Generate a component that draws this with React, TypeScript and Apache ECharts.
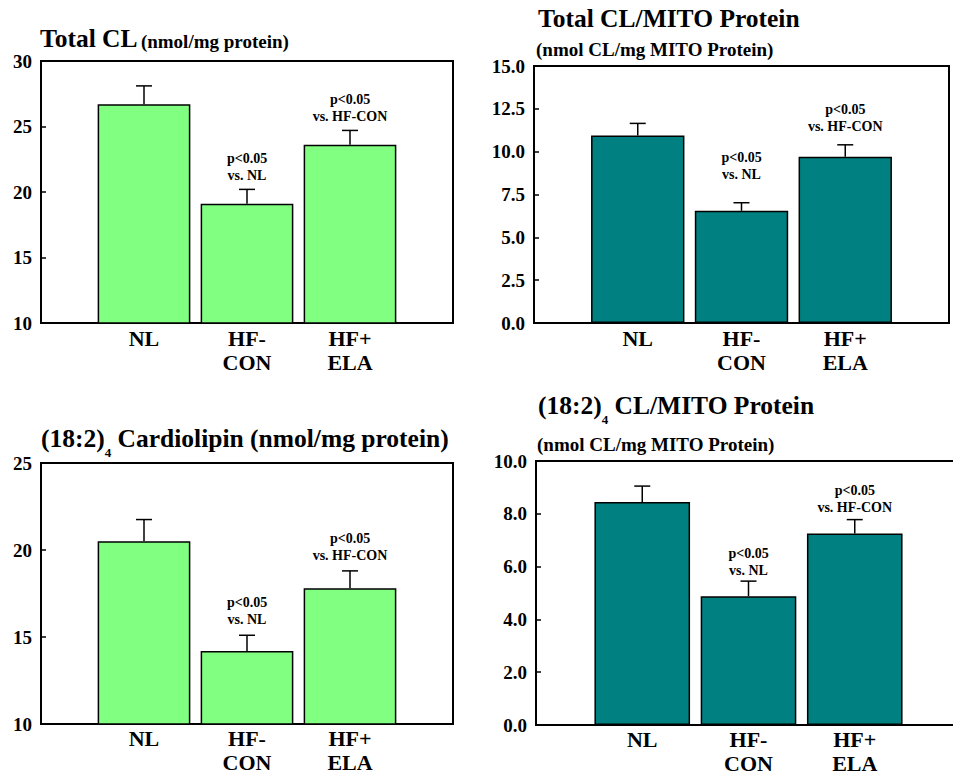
import React, { useEffect, useRef } from 'react';
import * as echarts from 'echarts';

// ---------- data ----------
const categories = ['NL', 'HF-\nCON', 'HF+\nELA'];

const totalCL = [26.7, 19.1, 23.6];
const totalCLSem = [1.4, 1.1, 1.1];

const totalCLMito = [10.95, 6.55, 9.7];
const totalCLMitoSem = [0.7, 0.47, 0.7];

const cl182Total = [20.5, 14.2, 17.8];
const cl182TotalSem = [1.25, 0.9, 1.0];

const cl182Mito = [8.45, 4.88, 7.25];
const cl182MitoSem = [0.6, 0.57, 0.53];

const significance = ['', 'p<0.05\nvs. NL', 'p<0.05\nvs. HF-CON'];
// vertical level (data units) of the centre of each significance note
const noteLevelTotalCL = [null, 21.9, 26.4];
const noteLevelTotalCLMito = [null, 9.15, 11.95];
const noteLevelCl182Total = [null, 16.5, 20.2];
const noteLevelCl182Mito = [null, 6.16, 8.56];

// ---------- styling ----------
const FONT = "'Liberation Serif', 'Times New Roman', serif";
const GREEN = '#80FF80';
const TEAL = '#008080';
const TITLE_FS = 25.5;
const SUB_FS = 19;

const panels = [
  { grid: { left: 41, top: 61, width: 412, height: 262 }, min: 10, max: 30, interval: 5, dec: 0, color: GREEN, values: totalCL, sem: totalCLSem, notes: noteLevelTotalCL, labelMargin: 3 },
  { grid: { left: 534, top: 66, width: 415, height: 257 }, min: 0, max: 15, interval: 2.5, dec: 1, color: TEAL, values: totalCLMito, sem: totalCLMitoSem, notes: noteLevelTotalCLMito, labelMargin: 3 },
  { grid: { left: 41, top: 463, width: 412, height: 261 }, min: 10, max: 25, interval: 5, dec: 0, color: GREEN, values: cl182Total, sem: cl182TotalSem, notes: noteLevelCl182Total, labelMargin: 2 },
  { grid: { left: 536, top: 461, width: 425, height: 264 }, min: 0, max: 10, interval: 2, dec: 1, color: TEAL, values: cl182Mito, sem: cl182MitoSem, notes: noteLevelCl182Mito, labelMargin: 2 },
];

function buildOption() {
  const grid: any[] = [];
  const xAxis: any[] = [];
  const yAxis: any[] = [];
  const series: any[] = [];

  panels.forEach((p, i) => {
    grid.push({
      ...p.grid,
      show: true,
      borderColor: '#000',
      borderWidth: 2,
      backgroundColor: 'transparent',
      containLabel: false,
      outerBoundsMode: 'none',
    });
    xAxis.push({
      type: 'category',
      gridIndex: i,
      data: ['', ...categories, ''],
      boundaryGap: false,
      axisLine: { show: false },
      axisTick: { show: false },
      splitLine: { show: false },
      axisLabel: {
        interval: 0,
        margin: p.labelMargin,
        fontSize: 22,
        fontWeight: 'bold',
        fontFamily: FONT,
        color: '#000',
        lineHeight: 24,
      },
    });
    yAxis.push({
      type: 'value',
      gridIndex: i,
      min: p.min,
      max: p.max,
      interval: p.interval,
      axisLine: { show: false },
      splitLine: { show: false },
      axisTick: { show: true, inside: true, length: 5, lineStyle: { color: '#000', width: 1.5 } },
      axisLabel: {
        margin: 9,
        fontSize: 19,
        fontWeight: 'bold',
        fontFamily: FONT,
        color: '#000',
        formatter: (v: number) => v.toFixed(p.dec),
      },
    });
    series.push({
      type: 'bar',
      xAxisIndex: i,
      yAxisIndex: i,
      data: ['-', ...p.values, '-'],
      barWidth: '90%',
      clip: true,
      silent: true,
      itemStyle: { color: p.color, borderColor: '#000', borderWidth: 1.5 },
    });
    series.push({
      type: 'custom',
      xAxisIndex: i,
      yAxisIndex: i,
      z: 5,
      silent: true,
      data: p.values.map((v, k) => [k + 1, v, p.sem[k]]),
      renderItem: (params: any, api: any) => {
        const x = api.value(0);
        const v = api.value(1);
        const e = api.value(2);
        const p0 = api.coord([x, v]);
        const p1 = api.coord([x, v + e]);
        const st = { stroke: '#000', lineWidth: 1.5 };
        return {
          type: 'group',
          children: [
            { type: 'line', shape: { x1: p0[0], y1: p0[1], x2: p1[0], y2: p1[1] }, style: st },
            { type: 'line', shape: { x1: p1[0] - 8, y1: p1[1], x2: p1[0] + 8, y2: p1[1] }, style: st },
          ],
        };
      },
    });
    series.push({
      type: 'custom',
      xAxisIndex: i,
      yAxisIndex: i,
      z: 6,
      silent: true,
      data: p.notes
        .map((lvl, k) => (lvl == null ? null : [k + 1, lvl, k]))
        .filter((d) => d !== null),
      renderItem: (params: any, api: any) => {
        const x = api.value(0);
        const y = api.value(1);
        const k = api.value(2);
        const pt = api.coord([x, y]);
        return {
          type: 'text',
          x: pt[0],
          y: pt[1],
          style: {
            text: significance[k],
            fill: '#000',
            fontSize: 14,
            fontWeight: 'bold',
            fontFamily: FONT,
            align: 'center',
            verticalAlign: 'middle',
            lineHeight: 17,
          },
        };
      },
    });
  });

  const base = { fontWeight: 'bold', fontFamily: FONT, color: '#000' };
  // title + smaller unit text sharing one baseline
  const unitLine = 2 * (0.3375 * TITLE_FS + 0.1625 * SUB_FS);
  // title with subscript
  const subLine = 42;

  const graphic = [
    {
      type: 'text',
      x: 40,
      y: 47.5 - (unitLine / 2 + 0.3375 * TITLE_FS),
      style: {
        text: '{a|Total CL} {b|(nmol/mg protein)}',
        verticalAlign: 'top',
        align: 'left',
        rich: {
          a: { ...base, fontSize: TITLE_FS, lineHeight: unitLine },
          b: { ...base, fontSize: SUB_FS, lineHeight: unitLine, verticalAlign: 'bottom' },
        },
      },
    },
    {
      type: 'text',
      x: 538,
      y: 26.7 - 0.3375 * TITLE_FS,
      style: { text: 'Total CL/MITO Protein', fontSize: TITLE_FS, fontWeight: 'bold', fontFamily: FONT, fill: '#000', align: 'left', verticalAlign: 'middle' },
    },
    {
      type: 'text',
      x: 536,
      y: 49,
      style: { text: '(nmol CL/mg MITO Protein)', fontSize: SUB_FS, fontWeight: 'bold', fontFamily: FONT, fill: '#000', align: 'left', verticalAlign: 'middle' },
    },
    {
      type: 'text',
      x: 41,
      y: 446.7 - (subLine / 2 + 0.3375 * TITLE_FS),
      style: {
        text: '{a|(18:2)}{s|4}{a| Cardiolipin (nmol/mg protein)}',
        verticalAlign: 'top',
        align: 'left',
        rich: {
          a: { ...base, fontSize: TITLE_FS, lineHeight: subLine },
          s: { ...base, fontSize: 13, lineHeight: subLine, verticalAlign: 'bottom' },
        },
      },
    },
    {
      type: 'text',
      x: 538,
      y: 414 - (subLine / 2 + 0.3375 * TITLE_FS),
      style: {
        text: '{a|(18:2)}{s|4}{a| CL/MITO Protein}',
        verticalAlign: 'top',
        align: 'left',
        rich: {
          a: { ...base, fontSize: TITLE_FS, lineHeight: subLine },
          s: { ...base, fontSize: 13, lineHeight: subLine, verticalAlign: 'bottom' },
        },
      },
    },
    {
      type: 'text',
      x: 537,
      y: 444,
      style: { text: '(nmol CL/mg MITO Protein)', fontSize: SUB_FS, fontWeight: 'bold', fontFamily: FONT, fill: '#000', align: 'left', verticalAlign: 'middle' },
    },
  ];

  return {
    animation: false,
    backgroundColor: '#fff',
    textStyle: { fontFamily: FONT },
    grid,
    xAxis,
    yAxis,
    series,
    graphic,
  };
}

export default function App() {
  const ref = useRef<HTMLDivElement>(null);
  useEffect(() => {
    if (!ref.current) return;
    const chart = echarts.init(ref.current, undefined, { renderer: 'svg' });
    chart.setOption(buildOption() as any);
    return () => chart.dispose();
  }, []);
  return (
    <div
      ref={ref}
      style={{ position: 'absolute', left: 0, top: 0, width: 953, height: 776, background: '#fff' }}
    />
  );
}
